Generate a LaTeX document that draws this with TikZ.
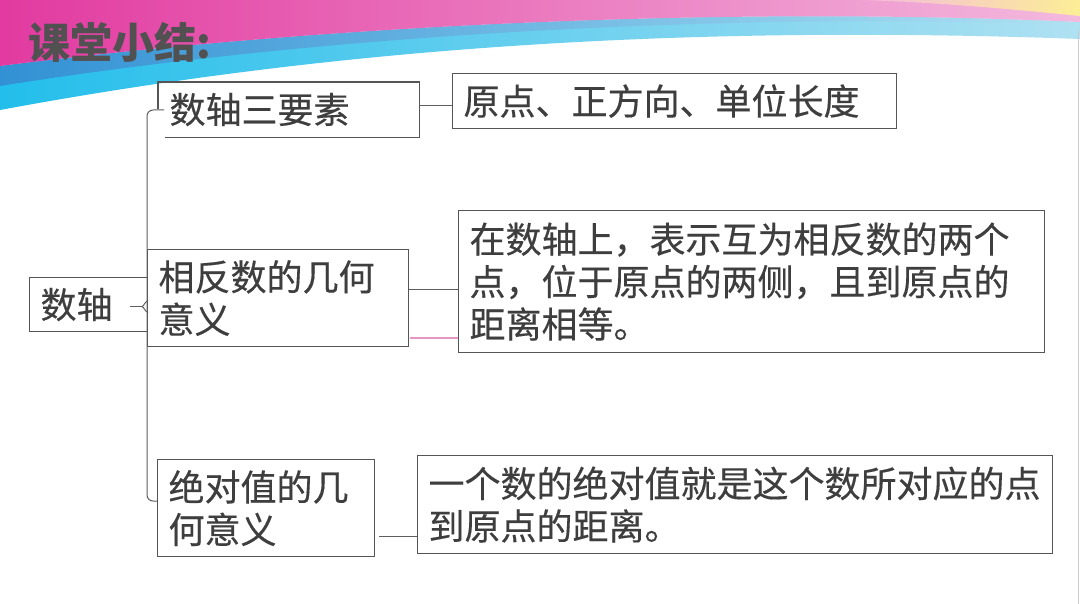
\documentclass[tikz,border=0pt]{standalone}
\usepackage{fontspec}
\setmainfont{Noto Sans CJK SC}
\newfontfamily\boxfont{Noto Sans CJK SC}[FakeBold=0.35]
\usetikzlibrary{calc}
\definecolor{txtc}{RGB}{62,62,62}
\definecolor{edgec}{RGB}{85,85,85}
\definecolor{linec}{RGB}{95,95,95}
\definecolor{pinkln}{RGB}{230,150,195}
\definecolor{magA}{RGB}{226,58,160}
\definecolor{magB}{RGB}{228,130,205}
\definecolor{magC}{RGB}{243,185,222}
\definecolor{cyA}{RGB}{35,190,235}
\definecolor{cyB}{RGB}{70,205,240}
\definecolor{cyC}{RGB}{175,225,242}
\definecolor{stA}{RGB}{50,145,212}
\definecolor{yelc}{RGB}{252,238,150}
\begin{document}
\begin{tikzpicture}[x=1pt,y=-1pt,
  boxnode/.style={draw=edgec, line width=1.1pt, inner xsep=11pt, inner ysep=0pt,
     align=left, text=txtc, font=\boxfont\fontsize{36}{42.5}\selectfont, anchor=north west},
  conn/.style={draw=linec, line width=1pt},
  pinkconn/.style={draw=pinkln, line width=2pt},
  titlestyle/.style={text=txtc!90, font=\fontsize{42}{46}\selectfont\bfseries, inner sep=0pt, anchor=west}]
\useasboundingbox (0,0) rectangle (1080,604);
\fill[white] (0,0) rectangle (1080,604);
% background swoosh
\shade[left color=cyA, middle color=cyB, right color=cyC]
  (0,66) .. controls (300,28) and (700,5) .. (1080,22) -- (1080,39)
  .. controls (700,25) and (350,45) .. (0,110) -- cycle;
\shade[left color=stA, middle color=cyB, right color=cyC]
  (0,66) .. controls (300,28) and (700,5) .. (1080,22) -- (1080,25)
  .. controls (700,11) and (300,38) .. (0,86) -- cycle;
\shade[left color=magA, middle color=magB, right color=magC]
  (0,0) -- (1080,0) -- (1080,22) .. controls (700,5) and (300,28) .. (0,66) -- cycle;
\shade[left color=magC, right color=yelc]
  (860,0) -- (1080,0) -- (1080,16) .. controls (1000,8) and (930,2) .. (860,0) -- cycle;
\draw[black!20, line width=1pt] (1078,30) -- (1078,604);
% title
\node[titlestyle] (title) at (28,42) {课堂小结:};
% boxes
\node[boxnode, text width=96pt, minimum height=54pt] (root) at (29,277) {数轴};
\node[boxnode, draw=none, text width=238pt, minimum height=54pt] (b1) at (158,82) {数轴三要素};
\node[boxnode, text width=422pt, minimum height=55pt] (b2) at (452,73) {原点、正方向、单位长度};
\node[boxnode, text width=239pt, minimum height=97pt] (b3) at (147,249) {相反数的几何\\意义};
\node[boxnode, text width=564pt, minimum height=142pt] (b4) at (458,210) {在数轴上，表示互为相反数的两个\\点，位于原点的两侧，且到原点的\\距离相等。};
\node[boxnode, text width=195pt, minimum height=97pt] (b5) at (157,459) {绝对值的几\\何意义};
\node[boxnode, text width=613pt, minimum height=98pt] (b6) at (417,455) {一个数的绝对值就是这个数所对应的点\\到原点的距离。};
% open outline of b1
\draw[draw=edgec, line width=1.1pt] ($(b1.south west)+(7,0)$) -- (b1.south east) -- (b1.north east)
  -- (b1.north west) -- ($(b1.north west)+(0,27)$);
% trunk
\coordinate (b1in) at ($(b1.north west)+(6,28)$);
\coordinate (b5in) at ($(b5.north west)+(0,42)$);
\draw[conn, rounded corners=6pt] (b1in) -| (b3.west |- b5in) -- (b5in);
% root bracket
\draw[conn] ($(root.east)+(-18,2)$) -- ($(root.east)+(-6,2)$);
\draw[conn] ($(root.east)+(0,-4)$) .. controls ($(root.east)+(-3,-3)$) and ($(root.east)+(-4,1)$) .. ($(root.east)+(-6,2)$)
  .. controls ($(root.east)+(-4,3)$) and ($(root.east)+(-3,7)$) .. ($(root.east)+(0,8)$);
% side connectors
\coordinate (c12) at ($(b1.east)+(0,-4)$);
\draw[conn] (c12) -- (c12 -| b2.west);
\coordinate (c34) at ($(b3.east)+(0,-9)$);
\draw[conn] (c34) -- (c34 -| b4.west);
\coordinate (p34) at ($(b3.south east)+(1,-9)$);
\draw[pinkconn] (p34) -- (p34 -| b4.west);
\coordinate (c56) at ($(b5.south east)+(4,-21)$);
\draw[conn] (c56) -- (c56 -| b6.west);
\end{tikzpicture}
\end{document}
